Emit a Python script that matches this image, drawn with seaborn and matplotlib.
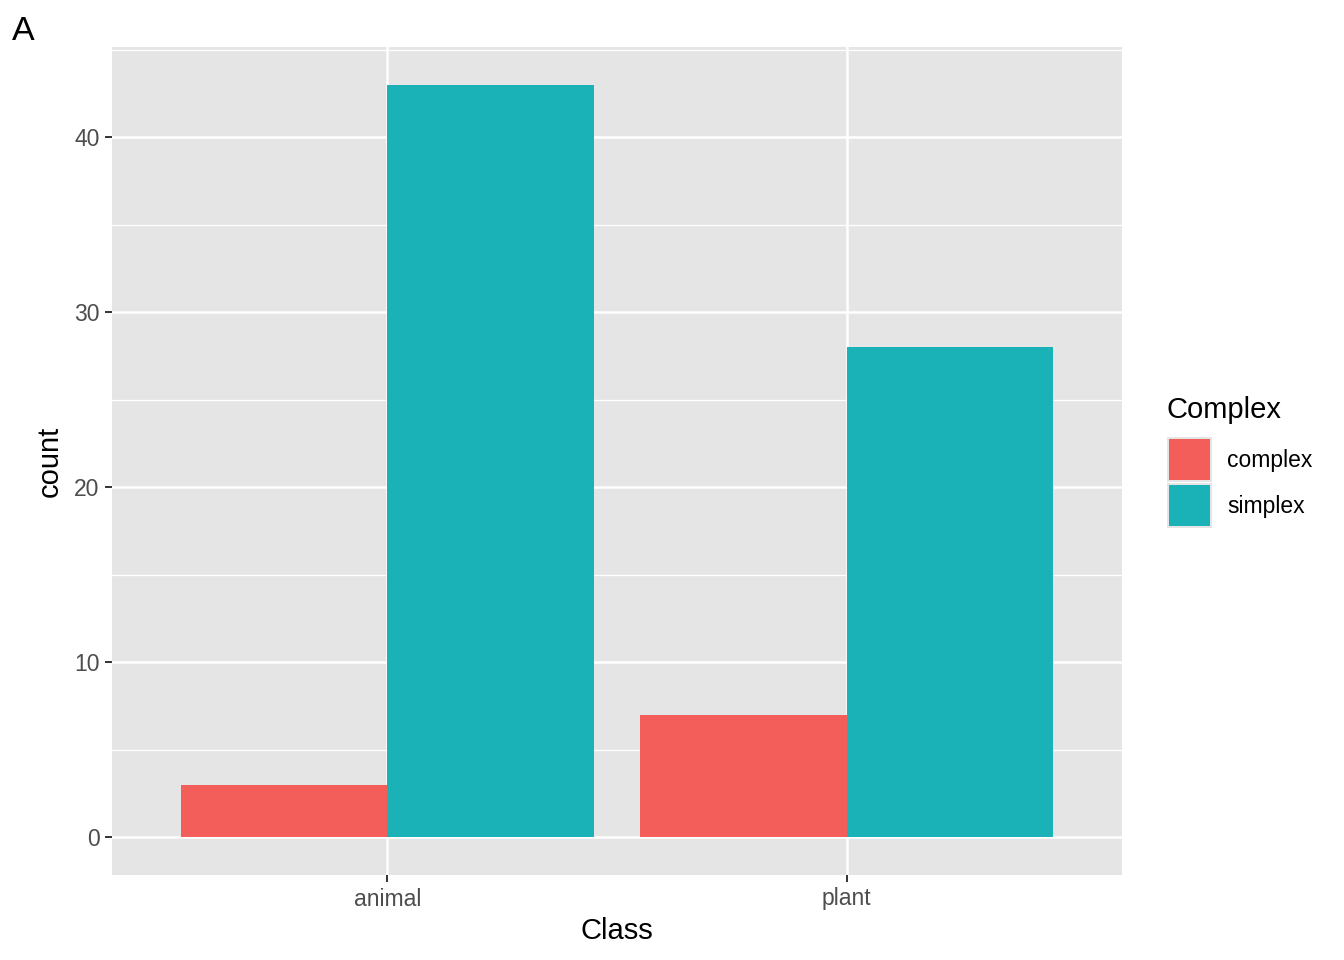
import numpy as np
import pandas as pd
import matplotlib
matplotlib.use('Agg')
import matplotlib.pyplot as plt
from matplotlib.patches import Rectangle
import seaborn as sns

# 數據
classes = ['animal', 'animal', 'plant', 'plant']
complex_type = ['complex', 'simplex', 'complex', 'simplex']
counts = [3, 43, 7, 28]
hue_order = ['complex', 'simplex']
palette = {'complex': '#F35E5A', 'simplex': '#1AB2B7'}

df = pd.DataFrame({'Class': classes, 'Complex': complex_type, 'count': counts})

sns.set_theme(style='white')
plt.rcParams['font.family'] = ['Liberation Sans', 'DejaVu Sans']
plt.rcParams['text.color'] = 'black'

fig = plt.figure(figsize=(13.44, 9.6), dpi=100)
ax = fig.add_axes([112 / 1344, 1 - 875 / 960, (1122 - 112) / 1344, (875 - 47) / 960])
ax.set_facecolor('#E5E5E5')

# 網格線
for y in [5, 15, 25, 35, 45]:
    ax.axhline(y, color='white', lw=0.9, zorder=0)
for y in [0, 10, 20, 30, 40]:
    ax.axhline(y, color='white', lw=1.8, zorder=0)
for x in [0, 1]:
    ax.axvline(x, color='white', lw=1.8, zorder=0)

sns.barplot(data=df, x='Class', y='count', hue='Complex', hue_order=hue_order,
            palette=palette, width=0.9, gap=0, saturation=1, linewidth=0,
            legend=False, ax=ax, zorder=2)

ax.set_xlim(-0.6, 1.6)
ax.set_ylim(-2.15, 45.15)
ax.set_yticks([0, 10, 20, 30, 40])
ax.set_xticks([0, 1])
ax.set_xticklabels(['animal', 'plant'])
for s in ax.spines.values():
    s.set_visible(False)
ax.tick_params(axis='both', which='major', length=5, width=1.4, color='#333333',
               labelcolor='#4D4D4D', labelsize=16.5, bottom=True, left=True)
ax.tick_params(axis='x', pad=4)
ax.tick_params(axis='y', pad=4)
ax.set_xlabel('Class', fontsize=21, color='black', va='center')
ax.set_ylabel('count', fontsize=21, color='black', va='center')
ax.xaxis.set_label_coords(0.5, -0.0675)
ax.yaxis.set_label_coords((50 - 112) / 1010, 0.5)
ax.grid(False)

# 圖例
fig.text(1167 / 1344, 1 - 410 / 960, 'Complex', fontsize=21, va='center', ha='left',
         color='black')
for i, lab in enumerate(hue_order):
    top = 437 + i * 46
    fig.add_artist(Rectangle((1167 / 1344, 1 - (top + 45) / 960), 45 / 1344, 45 / 960,
                             transform=fig.transFigure, facecolor='#E5E5E5',
                             edgecolor='none'))
    fig.add_artist(Rectangle((1169 / 1344, 1 - (top + 43) / 960), 41 / 1344, 41 / 960,
                             transform=fig.transFigure, facecolor=palette[lab],
                             edgecolor='none'))
    fig.text(1227 / 1344, 1 - (top + 23) / 960, lab, fontsize=16.5, va='center',
             ha='left', color='black')

fig.text(12 / 1344, 1 - 32 / 960, 'A', fontsize=24.5, va='center', ha='left',
         color='black')

fig.savefig('out.png', dpi=100)
